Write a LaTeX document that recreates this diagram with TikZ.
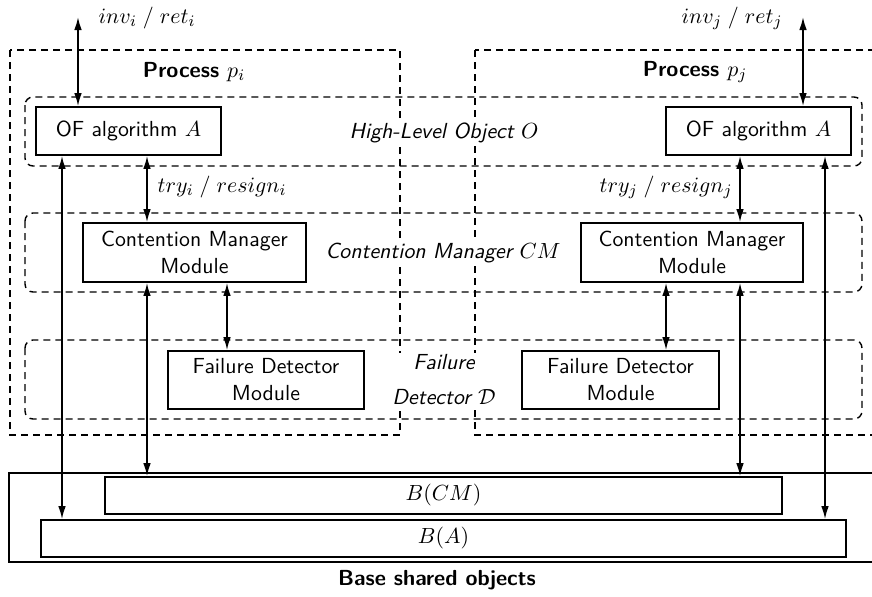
\documentclass[tikz,border=0pt]{standalone}
\usetikzlibrary{arrows.meta}

\begin{document}
\begin{tikzpicture}
  [x=0.5pt,y=-0.5pt,
   every node/.style={font=\sffamily\fontsize{10.9}{13.5}\selectfont},
   box/.style={draw,line width=0.9pt,inner sep=0pt,align=center},
   area/.style={draw,line width=0.7pt,dash pattern=on 3.5pt off 2.5pt},
   layer/.style={area,rounded corners=4pt},
   tag/.style={fill=white,inner sep=1pt,align=center,
     font=\sffamily\itshape\fontsize{10.9}{15.5}\selectfont},
   title/.style={font=\sffamily\bfseries\fontsize{10.9}{13.5}\selectfont},
   link/.style={line width=0.8pt,
     {Latex[length=6.5pt,width=3.8pt]}-{Latex[length=6.5pt,width=3.8pt]}}]
  \clip (0,0) rectangle (872,596);

  \draw[area] (10,50) rectangle (400,435);
  \draw[area] (475,50) rectangle (890,435);
  \draw[layer] (25,97) rectangle (862,166);
  \draw[layer] (25,213) rectangle (862,292);
  \draw[layer] (25,340) rectangle (862,419);
  \draw[line width=0.9pt] (9,473) rectangle (900,562);

  \node[title] (pi) at (194,72) {Process $p_i$};
  \node[title] (pj) at (695,72) {Process $p_j$};
  \node[tag] (hlo) at (444,133) {High-Level Object $O$};
  \node[tag] (cm) at (443,253) {Contention Manager $CM$};
  \node[tag] (fd) at (444,380) {Failure\\[2pt] Detector $\mathcal{D}$};

  \node[box,minimum width=92.5pt,minimum height=24pt] (ofi) at (128.5,131) {OF algorithm $A$};
  \node[box,minimum width=92.5pt,minimum height=24pt] (ofj) at (758.5,131) {OF algorithm $A$};
  \node[box,minimum width=111.5pt,minimum height=29.5pt] (cmi) at (194.5,252.5) {Contention Manager\\Module};
  \node[box,minimum width=111pt,minimum height=29.5pt] (cmj) at (692,252.5) {Contention Manager\\Module};
  \node[box,minimum width=98pt,minimum height=29pt] (fdi) at (266,380) {Failure Detector\\Module};
  \node[box,minimum width=98.5pt,minimum height=29pt] (fdj) at (620.5,380) {Failure Detector\\Module};
  \node[box,minimum width=338.5pt,minimum height=18.5pt] (bcm) at (443.5,495.5) {$B(CM)$};
  \node[box,minimum width=402.5pt,minimum height=18.5pt] (ba) at (443.5,538.5) {$B(A)$};
  \node[title] (base) at (437,580) {Base shared objects};

  \coordinate (topi) at (78,17);
  \coordinate (topj) at (803,17);
  \node (invi) at (147,18) {$inv_i \;/\; ret_i$};
  \node (invj) at (732,18) {$inv_j \;/\; ret_j$};
  \node (tryi) at (222,187) {$try_i \;/\; resign_i$};
  \node (tryj) at (666,187) {$try_j \;/\; resign_j$};

  \draw[link] (topi) -- (ofi.north -| topi);
  \draw[link] (topj) -- (ofj.north -| topj);
  \foreach \x/\from/\to in {147/ofi.south/cmi.north,740/ofj.south/cmj.north,
      62/ofi.south/ba.north,825/ofj.south/ba.north,
      147/cmi.south/bcm.north,740/cmj.south/bcm.north,
      227/cmi.south/fdi.north,666/cmj.south/fdj.north}
    \draw[link] (\from -| \x,0) -- (\to -| \x,0);

\end{tikzpicture}
\end{document}
